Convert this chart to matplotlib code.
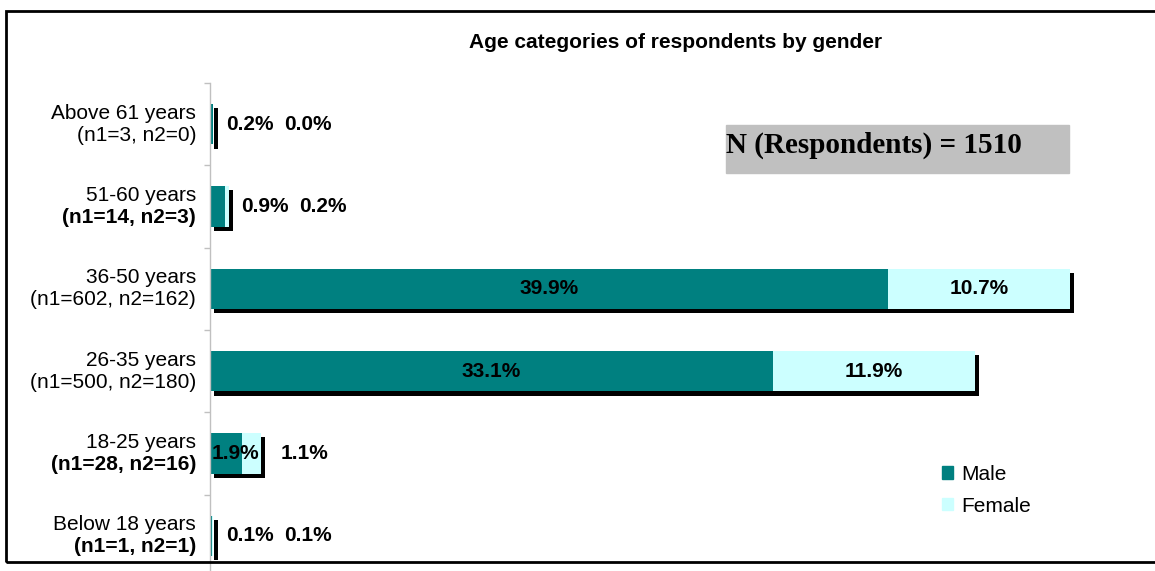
import matplotlib
matplotlib.use("Agg")
import matplotlib.pyplot as plt
import matplotlib.patheffects as pe
from matplotlib.patches import Patch, Rectangle

plt.rcParams['font.family'] = ['Liberation Sans', 'DejaVu Sans']

# age groups, bottom to top as drawn
age_groups = ["Below 18 years", "18-25 years", "26-35 years",
              "36-50 years", "51-60 years", "Above 61 years"]
n_male = [1, 28, 500, 602, 14, 3]
n_female = [1, 16, 180, 162, 3, 0]
pct_male = [0.1, 1.9, 33.1, 39.9, 0.9, 0.2]
pct_female = [0.1, 1.1, 11.9, 10.7, 0.2, 0.0]
bold_counts = [True, True, False, False, True, False]
n_total = 1510

MALE_COLOR = '#008080'
FEMALE_COLOR = '#CCFFFF'
W, H = 1155, 571

fig = plt.figure(figsize=(W / 100, H / 100), dpi=100)
# axes runs from y=83px down past the bottom edge of the figure
ax = fig.add_axes([210 / W, (H - 577) / H, 930 / W, 494 / H])

shadow = [pe.SimplePatchShadow(offset=(3, -3), shadow_rgbFace='black', alpha=1.0), pe.Normal()]
y = list(range(len(age_groups)))
bars_m = ax.barh(y, pct_male, height=0.49, color=MALE_COLOR, label='Male')
bars_f = ax.barh(y, pct_female, left=pct_male, height=0.49, color=FEMALE_COLOR, label='Female')
for b in list(bars_m) + list(bars_f):
    b.set_path_effects(shadow)

ax.set_xlim(0, 930 / 17.0)
ax.set_ylim(-0.5, len(age_groups) - 0.5)

# value labels
lab = dict(fontsize=15, fontweight='bold', color='black', va='center')
for i, (m, f) in enumerate(zip(pct_male, pct_female)):
    tot = m + f
    if m >= 5:
        ax.text(m / 2, i, f"{m:.1f}%", ha='center', **lab)
        ax.text(m + f / 2, i, f"{f:.1f}%", ha='center', **lab)
    elif tot >= 2.5:
        ax.text(tot / 2, i, f"{m:.1f}%", ha='center', **lab)
        ax.annotate(f"{f:.1f}%", (tot, i), xytext=(14, 0), textcoords='offset points', ha='left', **lab)
    else:
        ax.annotate(f"{m:.1f}%", (tot, i), xytext=(9, 0), textcoords='offset points', ha='left', **lab)
        ax.annotate(f"{f:.1f}%", (tot, i), xytext=(51, 0), textcoords='offset points', ha='left', **lab)

# category labels on two lines, counts sometimes bold
for i, name in enumerate(age_groups):
    ax.annotate(name, (0, i), xycoords=('axes fraction', 'data'), xytext=(-10, 8),
                textcoords='offset points', ha='right', va='center', fontsize=15)
    ax.annotate(f"(n1={n_male[i]}, n2={n_female[i]})", (0, i), xycoords=('axes fraction', 'data'),
                xytext=(-10, -8), textcoords='offset points', ha='right', va='center', fontsize=15,
                fontweight='bold' if bold_counts[i] else 'normal')

ax.set_yticks(y)
ax.set_yticklabels([])
ax.tick_params(axis='y', which='major', length=0)
ax.set_yticks([v - 0.5 for v in y] + [len(y) - 0.5], minor=True)
ax.tick_params(axis='y', which='minor', length=4, color='#C0C0C0', width=1)
ax.set_xticks([])
for s in ['top', 'right', 'bottom']:
    ax.spines[s].set_visible(False)
ax.spines['left'].set_color('#C0C0C0')
ax.spines['left'].set_linewidth(1)

fig.text(676 / W, 1 - 42 / H, "Age categories of respondents by gender",
         ha='center', va='center', fontsize=15, fontweight='bold')

# respondents box
fig.patches.append(Rectangle((726 / W, 1 - 173 / H), 343 / W, 48 / H,
                             transform=fig.transFigure, color='#C0C0C0', zorder=0))
fig.text(726 / W, 1 - 145 / H, f"N (Respondents) = {n_total}", ha='left', va='center',
         fontsize=21, fontweight='bold', family='Liberation Serif')

ax.legend(handles=[Patch(color=MALE_COLOR, label='Male'), Patch(color=FEMALE_COLOR, label='Female')],
          loc='upper left', bbox_to_anchor=(942 / W, 1 - 465 / H), bbox_transform=fig.transFigure,
          frameon=False, fontsize=15, handlelength=0.55, handleheight=0.55, handletextpad=0.35,
          labelspacing=0.6, borderpad=0, borderaxespad=0)

# outer frame, open on the right
fig.patches.append(Rectangle((6 / W, 1 - 562 / H), 1.5, 551 / H, transform=fig.transFigure,
                             fill=False, edgecolor='black', linewidth=2))

fig.savefig("out.png", dpi=100)
